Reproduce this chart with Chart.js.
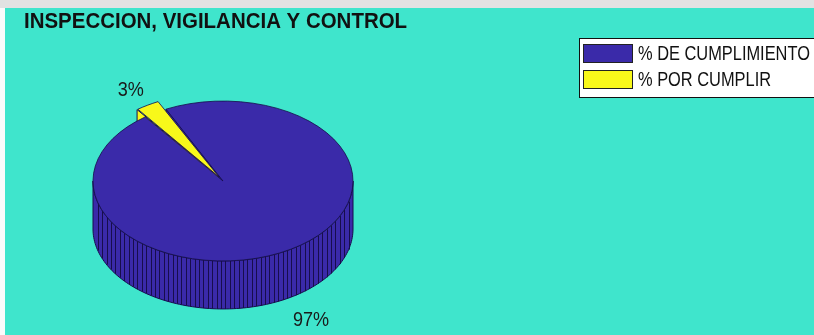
<!DOCTYPE html>
<html>
<head>
<meta charset="utf-8">
<script src="https://cdn.jsdelivr.net/npm/chart.js@4.4.0/dist/chart.umd.min.js"></script>
<style>
  body { margin: 0; background: #3fe5cc; }
  #wrap { width: 814px; height: 335px; }
</style>
</head>
<body>
<div id="wrap"><canvas id="myChart" width="814" height="335"></canvas></div>
<script>
// datos del grafico
const titulo = 'INSPECCION, VIGILANCIA Y CONTROL';
const categorias = ['% DE CUMPLIMIENTO', '% POR CUMPLIR'];
const valores = [97, 3];
const etiquetas = ['97%', '3%'];
const colores = ['#3a2aa9', '#f8f81a'];
const separacion = [0, 32]; // la porcion amarilla va separada

// estilo
const FONDO = '#3fe5cc';
const LINEA = '#170d4c';
const CENTRO = { x: 223, y: 181 }; // centro del pastel en pantalla
const K = 0.615;                   // aplastamiento vertical
const ALTO = 48;                   // grosor del pastel
const PASO = Math.PI / 120;        // resolucion del contorno
const RAYA = 4.4;                  // separacion de las rayas del costado (px)

function desplazamiento(arc) {
    const off = (arc.options.offset || 0) / 4;
    const mitad = (arc.startAngle + arc.endAngle) / 2;
    const circ = arc.endAngle - arc.startAngle;
    return {
        x: Math.cos(mitad) * off,
        y: Math.sin(mitad) * off,
        r: arc.outerRadius + off * (1 - Math.sin(Math.min(Math.PI, circ)))
    };
}

function punto(d, ang, r, caida) {
    return {
        x: CENTRO.x + d.x + r * Math.cos(ang),
        y: CENTRO.y + K * (d.y + r * Math.sin(ang)) + caida
    };
}

// costado frontal (angulos entre 0 y PI)
function dibujarCostado(ctx, arc, color) {
    const d = desplazamiento(arc);
    for (let n = -1; n <= 2; n++) {
        const a = Math.max(arc.startAngle, n * 2 * Math.PI);
        const b = Math.min(arc.endAngle, n * 2 * Math.PI + Math.PI);
        if (b <= a) continue;
        const angs = [];
        for (let t = a; t < b; t += PASO) angs.push(t);
        angs.push(b);
        ctx.beginPath();
        angs.forEach((t, i) => {
            const p = punto(d, t, d.r, 0);
            if (i === 0) ctx.moveTo(p.x, p.y); else ctx.lineTo(p.x, p.y);
        });
        for (let i = angs.length - 1; i >= 0; i--) {
            const p = punto(d, angs[i], d.r, ALTO);
            ctx.lineTo(p.x, p.y);
        }
        ctx.closePath();
        ctx.fillStyle = color;
        ctx.fill();
        ctx.strokeStyle = LINEA;
        ctx.lineWidth = 1;
        ctx.stroke();
        // rayas verticales, parejas en x
        const s = RAYA / d.r;
        ctx.beginPath();
        for (let u = 1 - s; u > -1 + s / 2; u -= s) {
            const t = n * 2 * Math.PI + Math.acos(u);
            if (t < a || t > b) continue;
            const p = punto(d, t, d.r, 0);
            ctx.moveTo(Math.round(p.x) + 0.5, p.y);
            ctx.lineTo(Math.round(p.x) + 0.5, p.y + ALTO);
        }
        ctx.stroke();
    }
}

// caras radiales visibles
function dibujarCara(ctx, arc, ang, color) {
    const d = desplazamiento(arc);
    const c0 = punto(d, ang, 0, 0);
    const c1 = punto(d, ang, d.r, 0);
    ctx.beginPath();
    ctx.moveTo(c0.x, c0.y);
    ctx.lineTo(c1.x, c1.y);
    ctx.lineTo(c1.x, c1.y + ALTO);
    ctx.lineTo(c0.x, c0.y + ALTO);
    ctx.closePath();
    ctx.fillStyle = color;
    ctx.fill();
    ctx.strokeStyle = LINEA;
    ctx.lineWidth = 1;
    ctx.stroke();
}

const pastel3d = {
    id: 'pastel3d',
    beforeDraw(chart) {
        const ctx = chart.ctx;
        ctx.save();
        ctx.fillStyle = FONDO;
        ctx.fillRect(0, 0, chart.width, chart.height);
        ctx.fillStyle = '#fbfbfb';
        ctx.fillRect(0, 0, 5, chart.height);
        ctx.fillStyle = '#e2e2e2';
        ctx.fillRect(0, 0, chart.width, 8);
        ctx.restore();
    },
    beforeDatasetsDraw(chart) {
        const ctx = chart.ctx;
        const meta = chart.getDatasetMeta(0);
        ctx.save();
        meta.data.forEach((arc, i) => {
            const col = chart.data.datasets[0].backgroundColor[i];
            if (Math.cos(arc.startAngle) < 0) dibujarCara(ctx, arc, arc.startAngle, col);
            if (Math.cos(arc.endAngle) > 0) dibujarCara(ctx, arc, arc.endAngle, col);
        });
        meta.data.forEach((arc, i) => {
            dibujarCostado(ctx, arc, chart.data.datasets[0].backgroundColor[i]);
        });
        ctx.restore();
        // la tapa: el pastel de Chart.js aplastado
        const a0 = meta.data[0];
        ctx.save();
        ctx.translate(CENTRO.x, CENTRO.y);
        ctx.scale(1, K);
        ctx.translate(-a0.x, -a0.y);
    },
    afterDatasetsDraw(chart) {
        const ctx = chart.ctx;
        ctx.restore();
        const meta = chart.getDatasetMeta(0);

        // etiquetas de porcentaje
        ctx.save();
        ctx.fillStyle = '#1a1a1a';
        ctx.font = '21px "Liberation Sans", Arial, sans-serif';
        ctx.textAlign = 'center';
        ctx.textBaseline = 'middle';
        meta.data.forEach((arc, i) => {
            const d = desplazamiento(arc);
            const mitad = (arc.startAngle + arc.endAngle) / 2;
            const p = punto(d, mitad, arc.outerRadius * 1.3, Math.sin(mitad) > 0 ? ALTO : 0);
            ctx.save();
            ctx.translate(p.x, p.y + 2);
            ctx.scale(0.86, 1);
            ctx.fillText(etiquetas[i], 0, 0);
            ctx.restore();
        });
        ctx.restore();

        // leyenda
        ctx.save();
        ctx.fillStyle = '#ffffff';
        ctx.fillRect(579.5, 38.5, 250, 59);
        ctx.strokeStyle = '#111';
        ctx.lineWidth = 1;
        ctx.strokeRect(579.5, 38.5, 250, 59);
        ctx.font = '20px "Liberation Sans", Arial, sans-serif';
        ctx.textBaseline = 'alphabetic';
        chart.data.labels.forEach((lab, i) => {
            const y = 44.5 + i * 26;
            ctx.fillStyle = chart.data.datasets[0].backgroundColor[i];
            ctx.fillRect(583.5, y, 49, 18);
            ctx.strokeStyle = '#222';
            ctx.strokeRect(583.5, y, 49, 18);
            ctx.save();
            ctx.translate(638, y + 15);
            ctx.scale(0.82, 1);
            ctx.fillStyle = '#111';
            ctx.fillText(lab, 0, 0);
            ctx.restore();
        });
        ctx.restore();

        // titulo
        ctx.save();
        ctx.fillStyle = '#111';
        ctx.font = 'bold 22px "Liberation Sans", Arial, sans-serif';
        ctx.textBaseline = 'alphabetic';
        ctx.translate(24, 28);
        ctx.scale(0.93, 1);
        ctx.fillText(titulo, 0, 0);
        ctx.restore();
    }
};

const ctx = document.getElementById('myChart').getContext('2d');
const myChart = new Chart(ctx, {
    type: 'pie',
    data: {
        labels: categorias,
        datasets: [{
            data: valores,
            backgroundColor: colores,
            borderColor: LINEA,
            borderWidth: 1,
            offset: separacion
        }]
    },
    options: {
        responsive: false,
        animation: false,
        rotation: -26,
        layout: { padding: { left: 77, right: 444, top: 20, bottom: 22 } },
        plugins: {
            legend: { display: false },
            title: { display: false },
            tooltip: { enabled: false }
        }
    },
    plugins: [pastel3d]
});
</script>
</body>
</html>
